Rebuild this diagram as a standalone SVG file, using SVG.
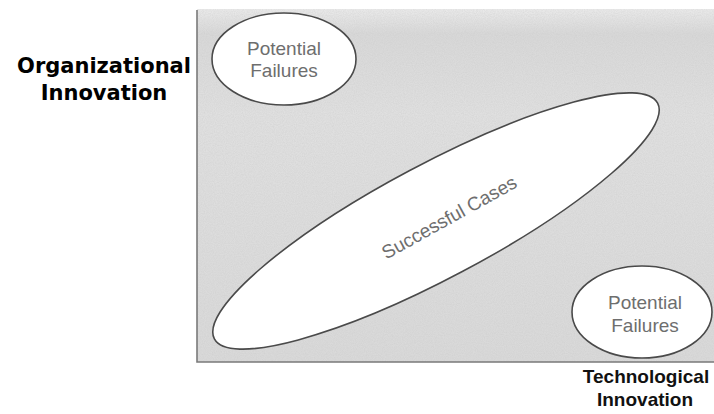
<svg xmlns="http://www.w3.org/2000/svg" width="714" height="414" viewBox="0 0 714 414">
  <style>
    .axis { font-family: "DejaVu Sans", Verdana, sans-serif; font-weight: bold; font-size: 21px; fill: #000; text-anchor: middle; }
    .axis2 { font-family: "Liberation Sans", Arial, sans-serif; font-weight: bold; font-size: 19px; fill: #111; text-anchor: middle; }
    .lbl { font-family: "Liberation Sans", Arial, sans-serif; font-size: 19px; fill: #6e6e6e; text-anchor: middle; }
    .oval { fill: #ffffff; stroke: #4a4a4a; stroke-width: 1.6; }
    .frame { stroke: #7a7a7a; stroke-width: 1.6; fill: none; }
  </style>
  <defs>
    <filter id="grain" x="0" y="0" width="100%" height="100%">
      <feTurbulence type="fractalNoise" baseFrequency="0.9" numOctaves="2" seed="3" result="n"/>
      <feColorMatrix in="n" type="matrix" values="0 0 0 0 0.55  0 0 0 0 0.55  0 0 0 0 0.55  0 0 0 0.9 -0.25" result="g"/>
      <feComposite in="g" in2="SourceGraphic" operator="in"/>
    </filter>
    <linearGradient id="bg" x1="0" y1="0" x2="0" y2="1">
      <stop offset="0" stop-color="#eaeaea"/>
      <stop offset="0.07" stop-color="#d8d8d8"/>
      <stop offset="0.3" stop-color="#e0e0e0"/>
      <stop offset="1" stop-color="#d9d9d9"/>
    </linearGradient>
  </defs>
  <rect width="714" height="414" fill="#ffffff"/>
  <g id="field">
    <rect x="197" y="9" width="517" height="353" fill="url(#bg)"/>
    <rect x="197" y="9" width="517" height="353" fill="#ffffff" filter="url(#grain)" opacity="0.6"/>
  </g>
  <g id="axes">
    <path class="frame" d="M197,10 V362 H714"/>
    <text class="axis" x="104" y="73">Organizational</text>
    <text class="axis" x="104" y="100">Innovation</text>
    <text class="axis2" x="646" y="383">Technological</text>
    <text class="axis2" x="645" y="406">Innovation</text>
  </g>
  <g id="successful-cases">
    <ellipse class="oval" cx="436" cy="221" rx="251" ry="57" transform="rotate(-28 436 221)"/>
    <text class="lbl" font-size="20.5" transform="translate(449,217) rotate(-29)" x="0" y="7">Successful Cases</text>
  </g>
  <g id="potential-failures-top">
    <ellipse class="oval" cx="284" cy="59" rx="72" ry="46"/>
    <text class="lbl" x="284" y="55">Potential</text>
    <text class="lbl" x="284" y="77">Failures</text>
  </g>
  <g id="potential-failures-bottom">
    <ellipse class="oval" cx="642" cy="312" rx="70" ry="46"/>
    <text class="lbl" x="645" y="309">Potential</text>
    <text class="lbl" x="645" y="332">Failures</text>
  </g>
</svg>
